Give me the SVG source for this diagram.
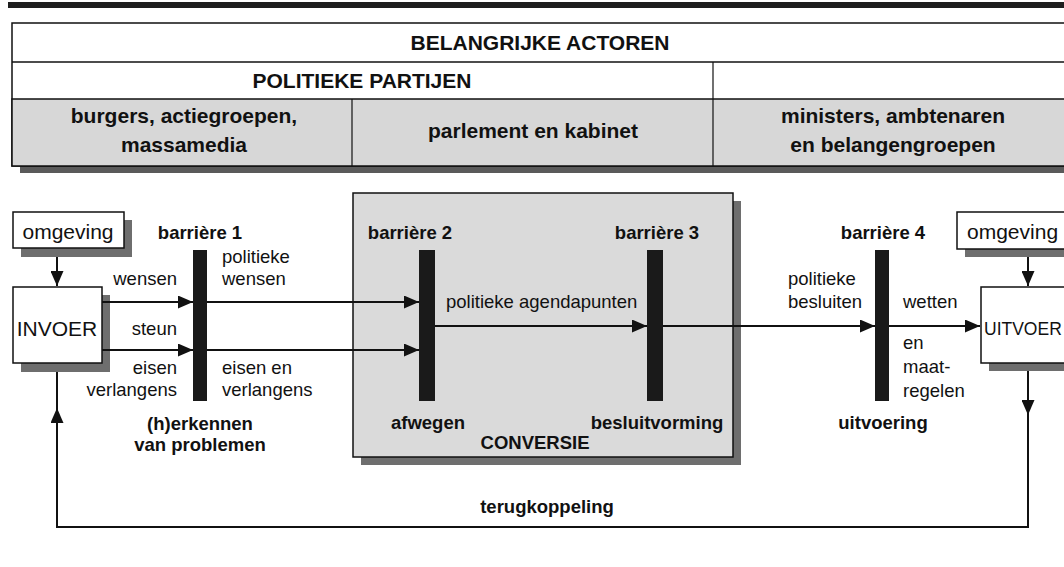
<svg xmlns="http://www.w3.org/2000/svg" width="1064" height="567" viewBox="0 0 1064 567">
<defs>
<style>
text{font-family:"Liberation Sans",Arial,sans-serif;fill:#111}
.t{font-size:21px;font-weight:bold}
.n{font-size:18.5px}
.lb{font-size:18.5px;font-weight:bold}
.box{fill:#fff;stroke:#111;stroke-width:1.5}
.sh{fill:#6e6e6e}
.bar{fill:#1a1a1a}
.ln{stroke:#111;stroke-width:2;fill:none}
</style>
<marker id="ah" markerUnits="userSpaceOnUse" markerWidth="15" markerHeight="13" refX="15" refY="6.5" orient="auto">
<path d="M0,0 L15,6.5 L0,13 z" fill="#111"/>
</marker>
</defs>
<rect width="1064" height="567" fill="#fff"/>
<rect x="8" y="2" width="1056" height="6" fill="#1e1e1e"/>

<g id="table">
<rect x="20" y="166" width="1044" height="7" fill="#5a5a5a"/>
<rect x="12" y="23" width="1060" height="143" fill="#fff" stroke="#111" stroke-width="1.5"/>
<rect x="12" y="99" width="1060" height="67" fill="#d7d7d7" stroke="#111" stroke-width="1.5"/>
<line x1="12" y1="62" x2="1064" y2="62" stroke="#111" stroke-width="1.5"/>
<line x1="352" y1="99" x2="352" y2="166" stroke="#111" stroke-width="1.2"/>
<line x1="713" y1="62" x2="713" y2="166" stroke="#111" stroke-width="1.2"/>
<text x="540" y="50" class="t" text-anchor="middle" font-size="22">BELANGRIJKE ACTOREN</text>
<text x="362" y="88" class="t" text-anchor="middle" font-size="22">POLITIEKE PARTIJEN</text>
<text x="184" y="123" class="t" text-anchor="middle">burgers, actiegroepen,</text>
<text x="184" y="152" class="t" text-anchor="middle">massamedia</text>
<text x="533" y="138" class="t" text-anchor="middle">parlement en kabinet</text>
<text x="893" y="123" class="t" text-anchor="middle">ministers, ambtenaren</text>
<text x="893" y="152" class="t" text-anchor="middle">en belangengroepen</text>
</g>

<g id="conversie">
<rect x="361" y="201" width="380" height="264" class="sh"/>
<rect x="353" y="193" width="380" height="264" fill="#dadada" stroke="#111" stroke-width="1.5"/>
<text x="535" y="449" class="lb" text-anchor="middle">CONVERSIE</text>
</g>

<g id="omgeving-links">
<rect x="21" y="220" width="111" height="37" class="sh"/>
<rect x="13" y="212" width="111" height="36" class="box"/>
<text x="68" y="239" font-size="21" text-anchor="middle">omgeving</text>
</g>

<g id="invoer">
<rect x="21" y="295" width="89" height="77" class="sh"/>
<rect x="13" y="287" width="89" height="76" class="box"/>
<text x="57" y="336" font-size="21" text-anchor="middle">INVOER</text>
</g>

<g id="omgeving-rechts">
<rect x="965" y="220" width="120" height="37" class="sh"/>
<rect x="957" y="212" width="120" height="37" class="box"/>
<text x="967" y="239" font-size="21">omgeving</text>
</g>

<g id="uitvoer">
<rect x="989" y="295" width="100" height="76" class="sh"/>
<rect x="981" y="287" width="100" height="76" class="box"/>
<text x="984" y="335" font-size="17.5">UITVOER</text>
</g>

<g id="barriere1">
<rect x="193" y="250" width="14" height="151" class="bar"/>
<text x="200" y="239" class="lb" text-anchor="middle">barrière 1</text>
<text x="200" y="430" class="lb" text-anchor="middle" font-size="18">(h)erkennen</text>
<text x="200" y="451" class="lb" text-anchor="middle" font-size="18">van problemen</text>
</g>

<g id="barriere2">
<rect x="419" y="250" width="16" height="151" class="bar"/>
<text x="410" y="239" class="lb" text-anchor="middle">barrière 2</text>
<text x="428" y="429" class="lb" text-anchor="middle">afwegen</text>
</g>

<g id="barriere3">
<rect x="647" y="250" width="16" height="151" class="bar"/>
<text x="657" y="239" class="lb" text-anchor="middle">barrière 3</text>
<text x="657" y="429" class="lb" text-anchor="middle">besluitvorming</text>
</g>

<g id="barriere4">
<rect x="875" y="250" width="14" height="151" class="bar"/>
<text x="883" y="239" class="lb" text-anchor="middle">barrière 4</text>
<text x="883" y="429" class="lb" text-anchor="middle">uitvoering</text>
</g>

<g id="connectors">
<line x1="57" y1="257" x2="57" y2="286" class="ln" marker-end="url(#ah)"/>
<line x1="1028" y1="257" x2="1028" y2="286" class="ln" marker-end="url(#ah)"/>
<line x1="102" y1="302" x2="193" y2="302" class="ln" marker-end="url(#ah)"/>
<line x1="102" y1="350" x2="193" y2="350" class="ln" marker-end="url(#ah)"/>
<line x1="207" y1="302" x2="419" y2="302" class="ln" marker-end="url(#ah)"/>
<line x1="207" y1="350" x2="419" y2="350" class="ln" marker-end="url(#ah)"/>
<line x1="435" y1="326" x2="647" y2="326" class="ln" marker-end="url(#ah)"/>
<line x1="663" y1="326" x2="875" y2="326" class="ln" marker-end="url(#ah)"/>
<line x1="889" y1="326" x2="980" y2="326" class="ln" marker-end="url(#ah)"/>
<path d="M1028,371 V527 H57 V372" class="ln"/>
<line x1="1028" y1="371" x2="1028" y2="415" class="ln" marker-end="url(#ah)"/>
<line x1="57" y1="527" x2="57" y2="408" class="ln" marker-end="url(#ah)"/>
<text x="177" y="285" class="n" text-anchor="end">wensen</text>
<text x="177" y="335" class="n" text-anchor="end">steun</text>
<text x="177" y="374" class="n" text-anchor="end">eisen</text>
<text x="177" y="396" class="n" text-anchor="end">verlangens</text>
<text x="222" y="263" class="n">politieke</text>
<text x="222" y="285" class="n">wensen</text>
<text x="222" y="374" class="n">eisen en</text>
<text x="222" y="396" class="n">verlangens</text>
<text x="446" y="308" class="n">politieke agendapunten</text>
<text x="788" y="285" class="n">politieke</text>
<text x="788" y="308" class="n">besluiten</text>
<text x="903" y="308" class="n">wetten</text>
<text x="903" y="349" class="n">en</text>
<text x="903" y="373" class="n">maat-</text>
<text x="903" y="397" class="n">regelen</text>
<text x="547" y="513" class="lb" text-anchor="middle">terugkoppeling</text>
</g>
</svg>
